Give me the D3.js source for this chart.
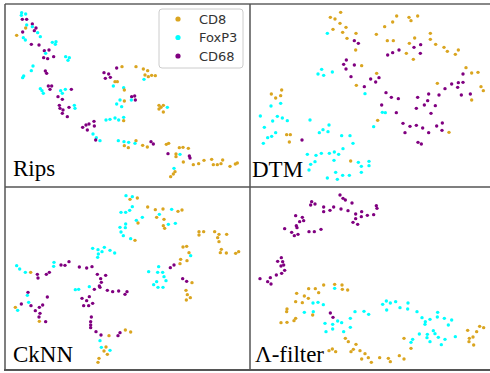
<!DOCTYPE html>
<html>
<head>
<meta charset="utf-8">
<script src="https://cdn.jsdelivr.net/npm/d3@7"></script>
<style>
  body { margin: 0; background: #fff; }
  svg { display: block; }
</style>
</head>
<body>
<svg id="chart" width="490" height="373"></svg>
<script>
// embedding coordinates per method, [x, y, type]; 0 = CD8, 1 = FoxP3, 2 = CD68
const categories = ['CD8', 'FoxP3', 'CD68'];
const colours = ['#daa520', '#00ffff', '#800080'];
const methods = ['Rips', 'DTM', 'CkNN', 'Λ-filter'];

const ripsPoints = [
  [65,38,1],[77,42,1],[64,46,1],[67,58,2],[80,58,2],[80,75,1],[97,72,2],[97,80,1],[108,84,2],
  [77,84,0],[68,96,2],[103,92,2],[113,98,1],[50,106,0],[70,113,1],[76,120,1],[121,110,1],
  [157,127,1],[168,125,1],[166,133,1],[94,133,2],[117,135,2],[133,152,2],[147,150,2],[137,160,1],
  [131,173,2],[143,176,2],[161,170,2],[197,170,1],[208,173,1],[204,181,1],
  [99,198,1],[94,212,1],[71,228,1],[68,233,1],[136,213,2],[140,220,2],
  [145,258,2],[155,258,2],[150,268,2],[121,266,1],[126,272,1],[130,280,1],
  [182,272,1],[196,268,1],[214,268,2],[187,280,1],[174,290,2],[187,298,2],
  [178,316,2],[180,325,2],[189,330,2],[207,322,2],[223,316,1],[225,325,1],[187,340,2],[202,350,2],
  [248,382,2],[258,375,2],[267,372,2],[282,364,2],[283,378,2],[262,390,2],
  [279,402,1],[289,413,1],[287,420,2],[300,422,1],
  [312,218,2],[326,222,2],[331,232,2],[316,235,2],[350,204,2],[366,200,0],
  [345,245,0],[352,245,0],[340,258,1],[371,263,1],[373,270,0],
  [408,200,0],[430,207,0],[443,212,0],[435,225,0],[432,238,1],[445,230,0],[455,226,0],[466,227,0],
  [395,290,2],[404,288,2],[406,300,2],[394,300,1],[360,300,1],[373,303,0],[350,312,1],[365,320,1],
  [477,316,0],[483,322,0],[490,316,0],[477,327,0],[490,336,0],[502,322,1],
  [318,360,1],[330,358,1],[345,354,1],[356,360,1],[371,352,1],[371,362,0],
  [355,422,1],[372,425,1],[386,427,1],[373,437,0],[385,443,0],[408,422,0],[405,430,1],
  [428,436,0],[442,441,0],[453,425,2],[460,432,2],[499,433,0],[506,430,0],
  [538,443,0],[549,442,0],[565,445,0],[504,461,2],[528,462,0],[540,463,1],[528,470,0],
  [568,468,2],[570,474,2],[550,486,0],
  [580,494,0],[596,491,0],[612,481,0],[635,478,0],[640,494,0],[652,494,0],[663,491,0],
  [668,480,0],[690,499,0],[706,492,0],[712,489,0],
  [522,505,1],[525,515,0],[520,522,0],[512,530,0]
];

const dtmPoints = [
  [287,37,0],[256,52,0],[270,57,0],[285,70,0],[303,82,0],[264,88,0],[293,97,0],[333,100,0],[306,115,0],[247,100,1],
  [328,122,2],[340,130,2],[332,150,0],
  [455,48,0],[492,52,0],[518,48,0],[498,62,0],[443,66,0],[419,80,0],[394,103,0],
  [427,122,0],[445,122,0],[509,114,0],[493,130,0],[556,100,0],[556,118,0],[572,133,0],[597,142,0],
  [607,154,0],[640,150,0],[631,163,0],
  [507,142,2],[527,134,2],[462,150,2],[443,158,2],[428,165,2],[526,160,2],[484,160,0],[505,178,0],
  [304,180,2],[296,193,2],[303,207,2],[328,195,2],[350,197,0],
  [230,208,1],[219,222,1],[236,226,1],[262,216,1],
  [318,230,2],[377,237,2],[392,246,2],[402,233,2],[395,220,0],[334,256,0],[358,260,2],[360,281,1],
  [110,270,0],[79,282,0],[107,287,0],[92,294,0],[107,310,1],[78,318,1],
  [663,203,0],[680,219,0],[699,217,0],[654,222,2],
  [577,250,0],[620,252,2],[640,248,2],[654,247,2],[600,266,2],[638,262,2],[708,260,0],[715,272,0],
  [649,285,2],[676,282,2],[680,300,0],
  [423,278,2],[439,292,2],[460,296,2],[410,315,2],[518,292,2],[551,282,2],[582,285,2],[548,302,2],
  [538,315,2],[514,325,2],[571,317,2],[558,340,2],[454,338,2],[412,337,1],[421,338,1],
  [46,348,1],[83,363,1],[97,349,1],[112,354,1],[127,362,1],[195,360,1],[398,361,0],[386,380,1],
  [474,370,2],[495,379,2],[514,376,2],[533,384,2],[575,378,2],[592,369,2],[480,398,2],[551,398,2],
  [591,391,2],[612,397,0],[519,427,2],[529,432,2],
  [58,382,1],[92,398,1],[68,413,1],[80,409,1],[55,430,1],
  [223,398,1],[234,389,1],[249,395,1],[252,375,1],[125,404,0],[136,404,0],[133,426,0],[171,420,2],
  [290,407,1],[315,407,1],[324,430,1],[294,446,1],[281,463,1],[268,456,1],[253,460,1],[229,460,1],
  [213,466,1],[187,463,1],[197,493,1],[210,485,1],[267,481,1],[192,510,1],[317,483,0],
  [340,487,1],[349,499,1],[372,484,1],[372,497,1],[349,517,1],[272,517,1],[293,526,1],[313,526,1],
  [247,534,1],[277,538,1]
];

const cknnPoints = [
  [378,32,1],[397,35,1],[390,43,0],[412,39,0],[397,65,1],[389,76,1],[377,82,1],[363,82,1],
  [443,66,0],[466,74,0],[489,72,0],[515,73,1],[534,79,0],[546,75,0],[470,97,0],[478,88,1],[492,103,0],
  [409,106,1],[427,97,1],[414,114,0],[490,122,0],[494,130,0],[505,118,1],[526,115,1],
  [377,117,1],[376,128,1],[360,127,1],[363,141,1],[370,152,1],[392,161,1],[405,166,0],
  [597,140,0],[611,140,0],[597,150,0],[644,140,0],[657,148,0],[680,148,0],[653,158,0],[657,170,0],
  [664,193,0],[661,203,0],[679,204,0],[707,205,0],[716,200,0],
  [549,186,0],[560,184,0],[567,203,0],[572,212,1],[542,223,0],[561,227,0],[540,236,0],
  [522,240,2],[511,248,2],
  [278,190,1],[294,194,1],[313,187,1],[330,196,1],[344,204,1],[306,200,1],[295,207,1],[293,217,1],
  [162,232,1],[161,244,1],[183,240,2],[195,241,2],[207,230,2],
  [50,242,1],[59,252,1],[76,262,1],[92,262,0],[148,262,2],[139,268,2],[112,268,2],[114,279,2],
  [238,246,2],[260,249,2],[276,245,2],
  [476,245,1],[446,260,1],[473,262,1],[488,262,1],[492,275,1],[470,290,1],[461,299,1],[474,307,1],
  [489,307,1],[498,287,1],[548,281,2],[560,289,2],[576,293,0],
  [292,268,2],[317,271,2],[302,281,2],[304,292,2],[298,303,2],
  [268,305,1],[283,313,2],[300,307,2],[322,316,2],[338,320,2],[356,318,2],[381,320,2],[375,328,2],
  [226,314,1],[236,313,1],[558,316,0],[562,329,0],[571,338,0],[559,345,0],
  [84,322,2],[82,331,1],[142,336,2],[64,357,2],[86,352,1],[93,362,2],[106,377,2],[118,367,2],
  [128,360,2],[120,385,2],[117,396,2],[46,367,0],[53,376,1],
  [246,340,2],[260,347,2],[268,335,2],[278,355,2],[266,362,2],[251,362,2],
  [118,409,0],[137,410,2],
  [274,396,2],[272,410,2],[272,420,2],[272,428,2],[288,440,2],[303,450,2],[354,452,2],[360,443,2],
  [376,435,0],[392,441,0],[327,452,0],
  [300,467,1],[304,487,1],[318,486,0],[330,496,1],[312,498,0],[322,508,0],[297,520,0],[294,532,0]
];

const lambdaPoints = [
  [285,30,2],[294,40,2],[301,45,2],[321,54,2],[200,50,2],[197,60,2],[210,57,2],[236,66,2],[266,66,2],
  [236,80,2],[255,76,2],[288,72,2],[309,77,2],[350,80,2],[332,87,2],[349,95,2],[367,91,2],[386,89,2],
  [394,62,2],[396,70,2],[332,101,2],[324,112,2],[338,118,2],
  [152,92,2],[172,97,2],[164,110,2],[176,107,2],[154,122,2],[156,128,2],[119,131,2],[140,142,2],
  [148,152,2],[159,148,2],[192,140,2],[208,140,2],[228,133,2],
  [109,218,2],[98,229,2],[113,230,2],[116,240,2],[108,243,2],[119,256,2],[94,270,2],[110,265,2],
  [76,278,2],[68,290,2],[78,297,2],[45,281,2],
  [236,300,0],[269,298,0],[291,300,0],[292,313,0],[308,315,0],[269,310,1],
  [155,325,0],[191,311,0],[211,311,0],[221,323,0],[178,333,0],[190,340,0],[152,350,0],[172,353,0],
  [204,354,1],[219,352,1],[235,359,1],[126,372,0],[125,380,0],[178,382,1],[205,380,1],[203,390,0],
  [108,413,0],[126,412,0],[147,407,0],[152,400,0],[256,384,2],[264,397,2],
  [330,380,1],[357,379,1],[371,388,1],[316,400,1],[278,408,1],[240,415,1],[263,418,1],[290,413,1],
  [316,427,1],[263,432,1],[243,440,1],[296,440,1],
  [413,358,1],[424,348,1],[436,354,1],[452,350,1],[465,368,1],[489,354,1],[425,375,1],[488,372,1],
  [516,380,1],[531,398,1],[541,410,1],[555,403,1],[578,382,1],[577,396,1],[598,400,1],[620,405,1],
  [540,418,1],[523,447,1],[547,448,1],[565,437,1],[546,458,1],[555,470,1],[570,446,1],[580,457,1],
  [600,463,1],[610,420,1],[631,455,1],[589,479,1],[503,463,1],[498,472,1],
  [477,460,0],[498,490,0],
  [301,460,0],[310,470,0],[333,478,0],[325,493,0],[318,500,0],[345,497,0],[360,506,0],[350,522,0],
  [370,518,0],[379,532,0],[404,518,0],[430,520,0],[436,530,0],[463,512,0],[477,522,0],
  [252,497,0],[262,492,0],[272,500,0],
  [668,436,0],[684,456,0],[695,440,0],[704,424,0],[716,428,0],[673,460,0],[672,470,0],[686,480,0]
];

const pointSets = [ripsPoints, dtmPoints, cknnPoints, lambdaPoints];

const svg = d3.select('#chart');

// each panel: pixel region on the page, embedding extent
const panels = [
  { x: 0, y: 0, w: 250, h: 190, dw: 750, dh: 570, lx: 13, ly: 176 },
  { x: 245, y: 0, w: 245, h: 190, dw: 735, dh: 570, lx: 252, ly: 177 },
  { x: 0, y: 185, w: 250, h: 188, dw: 750, dh: 564, lx: 13, ly: 362 },
  { x: 245, y: 185, w: 245, h: 188, dw: 735, dh: 564, lx: 255, ly: 362 }
];

// frame lines
const frame = svg.append('g').attr('stroke', '#555').attr('stroke-width', 1.5).attr('fill', 'none');
frame.append('line').attr('x1', 5).attr('x2', 490).attr('y1', 4).attr('y2', 4).attr('stroke', '#888').attr('stroke-width', 2);
frame.append('line').attr('x1', 5).attr('x2', 490).attr('y1', 187).attr('y2', 187);
frame.append('line').attr('x1', 4).attr('x2', 490).attr('y1', 370).attr('y2', 370).attr('stroke-width', 2);
frame.append('line').attr('x1', 5).attr('x2', 5).attr('y1', 4).attr('y2', 370);
frame.append('line').attr('x1', 250).attr('x2', 250).attr('y1', 4).attr('y2', 370);

panels.forEach((p, i) => {
  const x = d3.scaleLinear().domain([0, p.dw]).range([p.x, p.x + p.w]);
  const y = d3.scaleLinear().domain([0, p.dh]).range([p.y, p.y + p.h]);

  svg.append('g')
    .selectAll('circle')
    .data(pointSets[i])
    .join('circle')
    .attr('cx', (d) => x(d[0]))
    .attr('cy', (d) => y(d[1]))
    .attr('r', 1.7)
    .attr('fill', (d) => colours[d[2]]);

  svg.append('text')
    .attr('x', p.lx)
    .attr('y', p.ly)
    .text(methods[i])
    .style('font-family', '"Liberation Serif", "Times New Roman", serif')
    .style('font-size', '23px')
    .style('fill', '#000');
});

// legend
const legend = svg.append('g').attr('transform', 'translate(159,9)');
legend.append('rect')
  .attr('width', 84).attr('height', 59).attr('rx', 3)
  .attr('fill', '#fff').attr('stroke', '#ccc').attr('stroke-width', 1);
const rowY = d3.scalePoint().domain(categories).range([10, 47]);
legend.selectAll('circle')
  .data(categories)
  .join('circle')
  .attr('cx', 19)
  .attr('cy', (d) => rowY(d))
  .attr('r', 2.6)
  .attr('fill', (d, i) => colours[i]);
legend.selectAll('text')
  .data(categories)
  .join('text')
  .attr('x', 40)
  .attr('y', (d) => rowY(d))
  .attr('dy', '0.36em')
  .text((d) => d)
  .style('font-family', '"DejaVu Sans", sans-serif')
  .style('font-size', '13px')
  .style('fill', '#333');
</script>
</body>
</html>
